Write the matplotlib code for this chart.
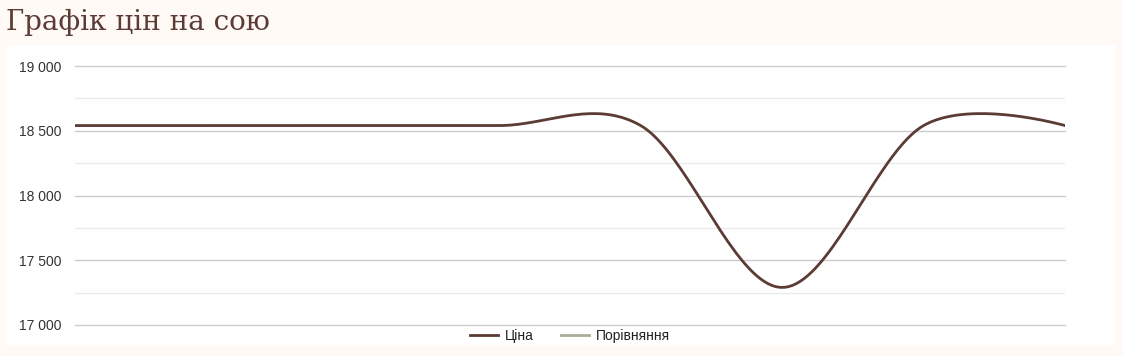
import numpy as np
import matplotlib.pyplot as plt
from matplotlib.patches import Rectangle
from matplotlib.lines import Line2D
from matplotlib.ticker import MultipleLocator, FuncFormatter

# --- data
prices = [18540, 18540, 18540, 18540, 18540, 17290, 18540, 18540]
compare = []
title = "Графік цін на сою"
series_names = ["Ціна", "Порівняння"]

BROWN = "#5c3b35"
GREEN = "#a9ac98"
BG = "#fffaf6"


def smooth(vals, steps=40):
    # bezier smoothing, control points from neighbours (endpoints use the point itself)
    pts = np.column_stack([np.arange(len(vals)), np.asarray(vals, float)])
    n = len(pts)
    xs, ys = [], []
    for i in range(n - 1):
        p0, p3 = pts[i], pts[i + 1]
        c1 = p0 + (pts[i + 1] - pts[i - 1]) / 6 if i > 0 else p0
        c2 = p3 - (pts[i + 2] - pts[i]) / 6 if i + 2 < n else p3
        t = np.linspace(0, 1, steps)[:, None]
        b = (1 - t) ** 3 * p0 + 3 * (1 - t) ** 2 * t * c1 + 3 * (1 - t) * t ** 2 * c2 + t ** 3 * p3
        xs.append(b[:, 0]); ys.append(b[:, 1])
    return np.concatenate(xs), np.concatenate(ys)


fig = plt.figure(figsize=(11.23, 3.56), dpi=100)
fig.patch.set_facecolor(BG)
fig.patches.append(Rectangle((6 / 1123, 1 - 345 / 356), 1109 / 1123, 300 / 356,
                             transform=fig.transFigure, facecolor="white",
                             edgecolor="none", zorder=-5))

fig.text(6 / 1123, 1 - 22 / 356, title, family="DejaVu Serif", fontsize=20,
         color=BROWN, va="center", ha="left")

ax = fig.add_axes([75 / 1123, 1 - 325 / 356, 990 / 1123, 259 / 356])
ax.set_zorder(2)
ax.set_facecolor("none")

sx, sy = smooth(prices)
ax.plot(sx, sy, color=BROWN, lw=2, zorder=3)
ax.plot(range(len(compare)), compare, color=GREEN, lw=2)

ax.set_xlim(0, len(prices) - 1)
ax.set_ylim(17000, 19000)
ax.yaxis.set_major_locator(MultipleLocator(500))
ax.yaxis.set_minor_locator(MultipleLocator(250))
ax.yaxis.set_major_formatter(FuncFormatter(lambda v, p: f"{int(v):,}".replace(",", " ")))
ax.grid(which="major", axis="y", color="#cccccc", lw=1)
ax.grid(which="minor", axis="y", color="#ebebeb", lw=1)
ax.set_axisbelow(True)
ax.set_xticks([])
ax.tick_params(axis="y", which="both", length=0, pad=9.5, labelsize=10, labelcolor="#333333")
for lab in ax.get_yticklabels():
    lab.set_family("Liberation Sans")
for s in ax.spines.values():
    s.set_visible(False)
for gl in ax.get_ygridlines():
    gl.set_clip_on(False)

handles = [Line2D([], [], color=BROWN, lw=2), Line2D([], [], color=GREEN, lw=2)]
leg = fig.legend(handles, series_names, loc="center", bbox_to_anchor=(570 / 1123, 1 - 336 / 356),
                 ncol=2, frameon=False, prop={"family": "Liberation Sans", "size": 10},
                 handlelength=2.0, handletextpad=0.5, columnspacing=2.0, labelcolor="#222222")
leg.set_zorder(3)

fig.savefig("out.png", dpi=100, facecolor=BG)
